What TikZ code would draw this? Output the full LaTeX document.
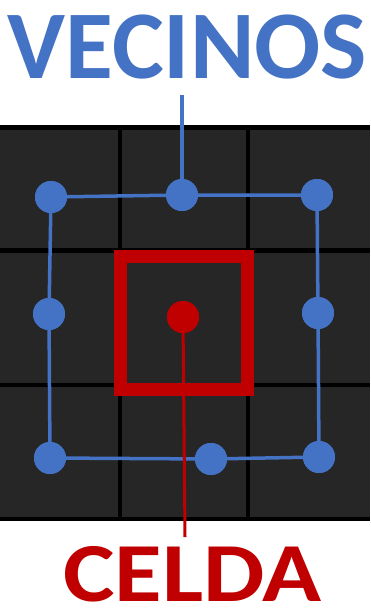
\documentclass[tikz,border=0pt]{standalone}
\usepackage{fontspec}
\setmainfont{Carlito}
\definecolor{vblue}{HTML}{4472C4}
\definecolor{cred}{HTML}{C00000}
\definecolor{cellgray}{HTML}{262626}
\begin{document}
\begin{tikzpicture}[x=1pt,y=-1pt,
  gridline/.style={fill=black},
  vdot/.style={circle,fill=vblue,inner sep=0pt,minimum size=32pt},
  rdot/.style={circle,fill=cred,inner sep=0pt,minimum size=32pt},
  vline/.style={draw=vblue,line width=3.5pt},
  rline/.style={draw=cred,line width=3pt},
  label/.style={inner sep=0pt,anchor=base,text depth=0pt}]
\useasboundingbox (0,0) rectangle (370,613);
% grid
\fill[cellgray] (0,125) rectangle (370,521);
\fill[gridline] (0,125) rectangle (370,129.5);
\fill[gridline] (0,516.5) rectangle (370,521);
\fill[gridline] (0,248) rectangle (370,252.5);
\fill[gridline] (0,382.5) rectangle (370,387);
\fill[gridline] (118,125) rectangle (122,521);
\fill[gridline] (245.5,125) rectangle (249.5,521);
% texts
\node[label,text=vblue,font=\bfseries\fontsize{97}{97}\selectfont,xscale=1.01] (vec) at (187.5,78) {VECINOS};
\node[label,text=cred,font=\bfseries\fontsize{84}{84}\selectfont,xscale=1.16] (cel) at (192.5,601.5) {CELDA};
\coordinate (vtop) at (182,95);
\coordinate (rbot) at (185,537);
% red cell
\draw[cred,line width=13pt] (120.5,256) rectangle (247,389.5);
% connectors
\node[vdot] (tl) at (51,197) {};
\node[vdot] (tm) at (182,195) {};
\node[vdot] (tr) at (317,195) {};
\node[vdot] (ml) at (49,314) {};
\node[vdot] (mr) at (318,313) {};
\node[vdot] (bl) at (50,458) {};
\node[vdot] (bm) at (211,459) {};
\node[vdot] (br) at (319,457) {};
\node[rdot] (c) at (183,317) {};
\draw[vline] (tm) -- (vtop);
\draw[vline] (tl) -- (tm) -- (tr) -- (mr) -- (br) -- (bm) -- (bl) -- (ml) -- (tl);
\draw[rline] (c) -- (rbot);
% dots on top of lines
\foreach \n in {tl,tm,tr,ml,mr,bl,bm,br} {\node[vdot] at (\n) {};}
\node[rdot] at (c) {};
\end{tikzpicture}
\end{document}
